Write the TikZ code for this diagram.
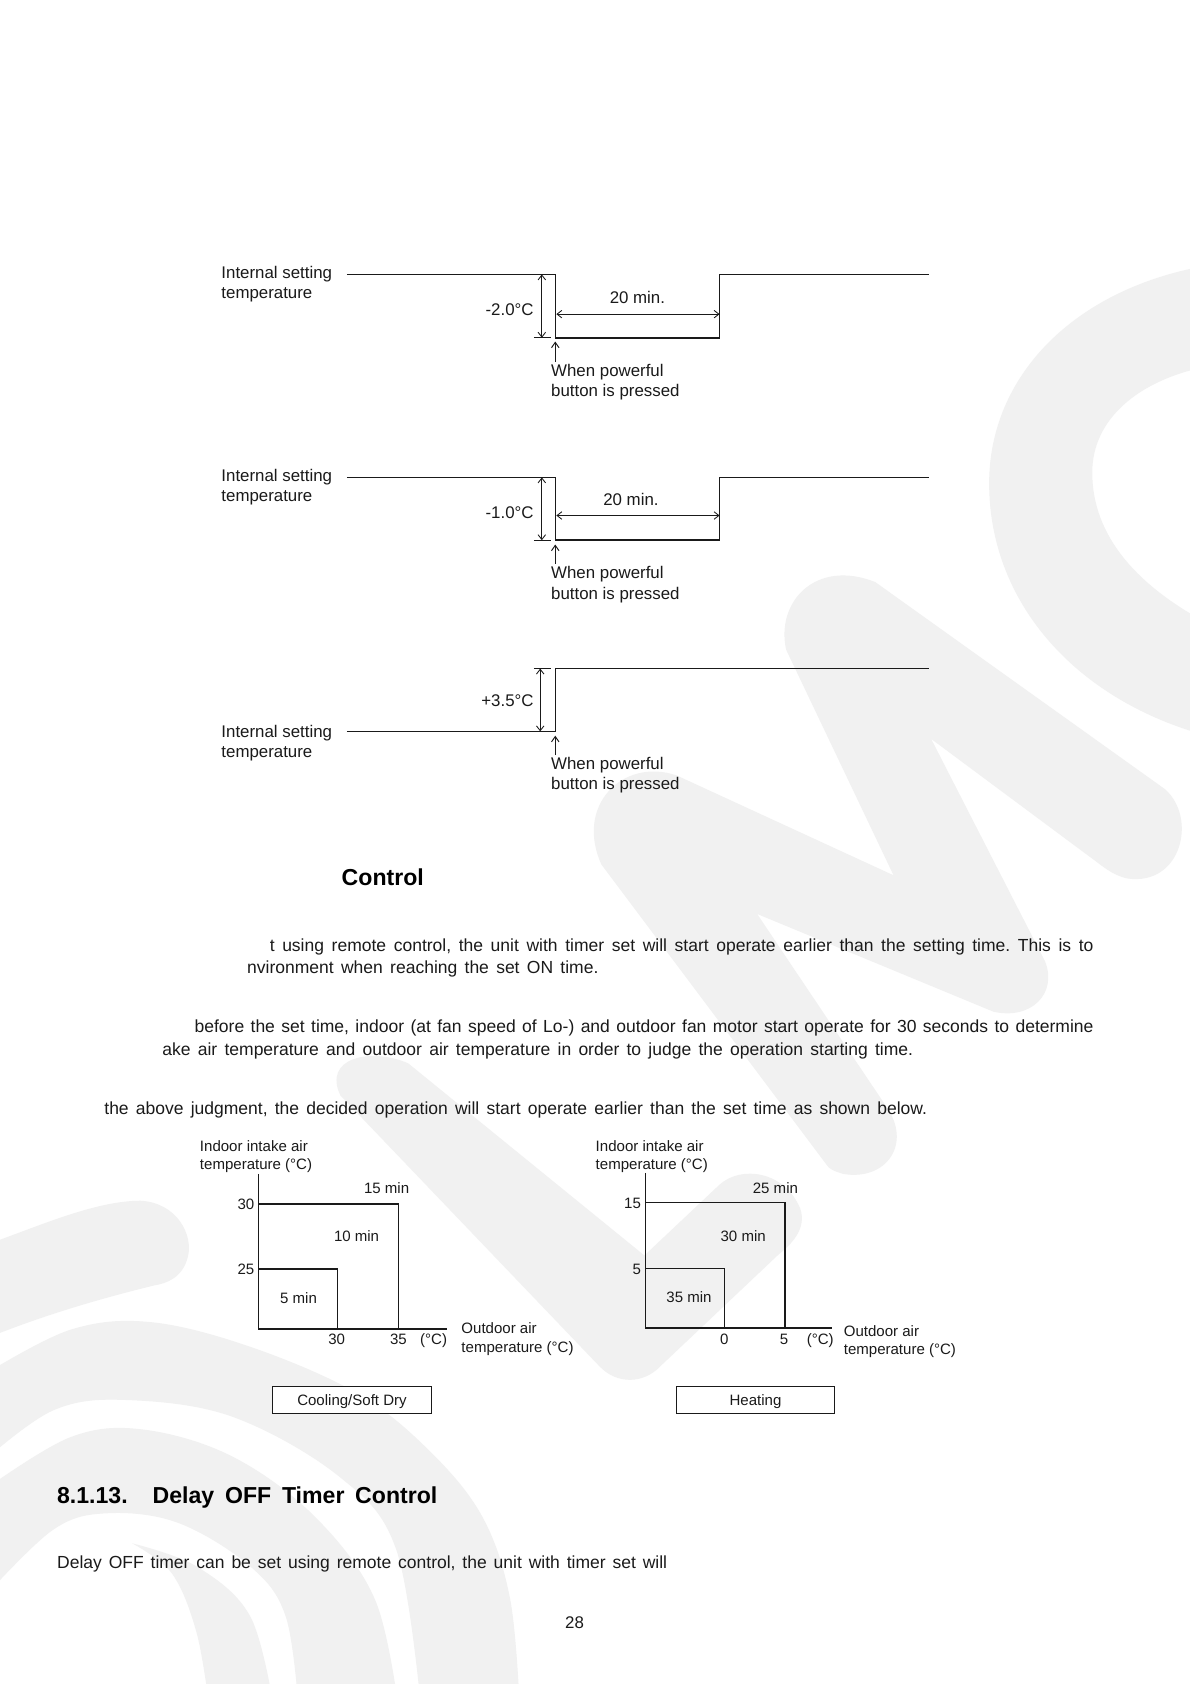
\documentclass[tikz,border=0pt]{standalone}
\usepackage{fontspec}
\setmainfont{Liberation Sans}
\usetikzlibrary{arrows.meta}
\definecolor{wmgrey}{HTML}{F1F1F1}
\definecolor{ink}{HTML}{1A1A1A}
\newcommand{\jl}[2]{\hbox to #1pt{\frenchspacing\spaceskip=.15em plus 1fil\relax #2}}
\newcommand{\fsa}{\fontsize{15.7}{19}\selectfont}
\newcommand{\fsc}{\fontsize{16.3}{19}\selectfont}
\newcommand{\fsb}{\fontsize{14}{17}\selectfont}
\tikzset{
  wm/.style={fill=wmgrey},
  wave/.style={draw=ink,line width=1.4pt,line join=miter},
  thin wave/.style={draw=ink,line width=.9pt},
  dim/.style={draw=ink,line width=.8pt,{Straight Barb[length=4.5pt,width=7pt]}-{Straight Barb[length=4.5pt,width=7pt]}},
  press/.style={draw=ink,line width=.9pt,-{Straight Barb[length=5pt,width=7pt]}},
  tick/.style={draw=ink,line width=.9pt},
  lab/.style={inner sep=0,text=ink,font=\fsa,anchor=base west},
  labr/.style={lab,anchor=base east},
  labc/.style={lab,anchor=base},
  body/.style={inner sep=0,text=ink,font=\fsc,anchor=base west},
  head/.style={inner sep=0,text=black,font=\fontsize{21.5}{24}\selectfont\bfseries,anchor=base west},
  clab/.style={inner sep=0,text=ink,font=\fsb,anchor=base west},
  clabr/.style={clab,anchor=base east},
  clabc/.style={clab,anchor=base},
  chart/.style={draw=ink,line width=1.1pt},
  cbox/.style={draw=ink,line width=1.1pt,fill=white,inner sep=0,text=ink,font=\fsb,minimum width=147.5pt,minimum height=25pt,text height=11pt,text depth=0pt},
}
\begin{document}
\begin{tikzpicture}[x=1pt,y=-1pt]
\useasboundingbox (0,0) rectangle (1108,1568);
\fill[white] (0,0) rectangle (1108,1568);
\begin{scope}
\clip (0,0) rectangle (1108,1568);
% watermark: ring
\fill[wm] (1120,248) .. controls (1000,270) and (921,350) .. (921,450)
  .. controls (921,560) and (1000,650) .. (1120,684)
  -- (1120,578) .. controls (1060,545) and (1017,500) .. (1017,440)
  .. controls (1017,390) and (1060,355) .. (1120,342) -- cycle;
% watermark: M
\fill[wm] (732,605) .. controls (722,560) and (760,520) .. (815,542)
  -- (1085,735) .. controls (1115,762) and (1100,825) .. (1050,818)
  .. controls (1035,815) and (1025,805) .. (1015,798)
  -- (867,688) -- (973,895) .. controls (985,925) and (960,950) .. (925,942)
  -- (705,851) -- (825,1030) .. controls (850,1065) and (825,1100) .. (785,1093)
  .. controls (775,1090) and (772,1088) .. (770,1085)
  -- (560,805) .. controls (535,750) and (580,705) .. (630,722)
  -- (832,815) -- cycle;
% watermark: V
\fill[wm] (317,1020) .. controls (300,985) and (345,975) .. (380,990)
  -- (600,1169) -- (670,1103) .. controls (690,1085) and (730,1090) .. (745,1125)
  .. controls (752,1145) and (735,1160) .. (725,1168)
  -- (615,1272) .. controls (600,1288) and (575,1290) .. (558,1272) -- cycle;
% watermark: arcs
\fill[wm] (-10,1158) .. controls (40,1140) and (90,1118) .. (131,1118)
  .. controls (165,1120) and (180,1150) .. (175,1170)
  .. controls (170,1190) and (155,1195) .. (143,1197) .. controls (90,1210) and (40,1225) .. (-10,1245) -- cycle;
\fill[wm] plot[smooth,tension=.6] coordinates {(-10,1277) (66,1238) (140,1231) (233,1254) (332,1297) (399,1350) (449,1412) (475,1489) (484,1590)}
  -- plot[smooth,tension=.6] coordinates {(392,1590) (369,1443) (316,1375) (216,1319) (116,1303.5) (50,1313) (-10,1356)} -- cycle;
\fill[wm] plot[smooth,tension=.6] coordinates {(-10,1384) (66,1338) (133,1331) (216,1356) (293,1412) (349,1489) (371,1590)}
  -- plot[smooth,tension=.6] coordinates {(278,1590) (266,1505) (233,1458.5) (166,1418) (100,1409) (50,1424) (-10,1482)} -- cycle;
\fill[wm] plot[smooth,tension=.6] coordinates {(123,1437) (183,1458.5) (233,1505) (255,1590)}
  -- plot[smooth,tension=.6] coordinates {(195,1590) (183,1520) (160,1465) (123,1437)} -- cycle;
\end{scope}

% --- diagram 1
\coordinate (a1) at (323,255.5); \coordinate (a2) at (517,255.5);
\coordinate (a3) at (517,314.5); \coordinate (a4) at (670,314.5);
\coordinate (a5) at (670,255.5); \coordinate (a6) at (865,255.5);
\draw[wave] (a1) -- (a2) -- (a3) -- (a4) -- (a5) -- (a6);
\coordinate (at1) at (497,314.5); \coordinate (at2) at (513,314.5);
\draw[tick] (at1) -- (at2);
\coordinate (ad1) at (504.5,255.5); \coordinate (ad2) at (504.5,314.5);
\draw[dim] (ad1) -- (ad2);
\coordinate (ah1) at (518,292.5); \coordinate (ah2) at (670,292.5);
\draw[dim] (ah1) -- (ah2);
\coordinate (ap1) at (517,337); \coordinate (ap2) at (517,318);
\draw[press] (ap1) -- (ap2);
\node[lab] (a_l1) at (206,259.5) {Internal setting};
\node[lab] (a_l2) at (206,277.5) {temperature};
\node[labr] (a_t) at (497,294) {-2.0°C};
\node[labc] (a_m) at (593.5,282.5) {20 min.};
\node[lab] (a_w1) at (513,350.5) {When powerful};
\node[lab] (a_w2) at (513,369.5) {button is pressed};

% --- diagram 2
\coordinate (b1) at (323,444.5); \coordinate (b2) at (517,444.5);
\coordinate (b3) at (517,503); \coordinate (b4) at (670,503);
\coordinate (b5) at (670,444.5); \coordinate (b6) at (865,444.5);
\draw[wave] (b1) -- (b2) -- (b3) -- (b4) -- (b5) -- (b6);
\coordinate (bt1) at (497,503); \coordinate (bt2) at (513,503);
\draw[tick] (bt1) -- (bt2);
\coordinate (bd1) at (504.5,444.5); \coordinate (bd2) at (504.5,503);
\draw[dim] (bd1) -- (bd2);
\coordinate (bh1) at (518,480); \coordinate (bh2) at (670,480);
\draw[dim] (bh1) -- (bh2);
\coordinate (bp1) at (517,525); \coordinate (bp2) at (517,507);
\draw[press] (bp1) -- (bp2);
\node[lab] (b_l1) at (206,448.5) {Internal setting};
\node[lab] (b_l2) at (206,466.5) {temperature};
\node[labr] (b_t) at (497,482.5) {-1.0°C};
\node[labc] (b_m) at (587.5,470.5) {20 min.};
\node[lab] (b_w1) at (513,538.5) {When powerful};
\node[lab] (b_w2) at (513,558.5) {button is pressed};

% --- diagram 3
\coordinate (c1) at (323,681); \coordinate (c2) at (517,681);
\coordinate (c3) at (517,622.5); \coordinate (c4) at (865,622.5);
\draw[wave] (c1) -- (c2) -- (c3);
\draw[thin wave] (c3) -- (c4);
\coordinate (ct1) at (497,622.5); \coordinate (ct2) at (513,622.5);
\draw[tick] (ct1) -- (ct2);
\coordinate (cd1) at (503,622.5); \coordinate (cd2) at (503,681);
\draw[dim] (cd1) -- (cd2);
\coordinate (cp1) at (517,703); \coordinate (cp2) at (517,685);
\draw[press] (cp1) -- (cp2);
\node[lab] (c_l1) at (206,686.5) {Internal setting};
\node[lab] (c_l2) at (206,705.5) {temperature};
\node[labr] (c_t) at (497,657.5) {+3.5°C};
\node[lab] (c_w1) at (513,716.5) {When powerful};
\node[lab] (c_w2) at (513,735.5) {button is pressed};

% --- text
\node[head] (h1) at (318,824.5) {Control};
\node[body] (t1) at (251,885.5) {\jl{767}{t using remote control, the unit with timer set will start operate earlier than the setting time. This is to}};
\node[body] (t2) at (230,906.5) {\jl{327}{nvironment when reaching the set ON time.}};
\node[body] (t3) at (181,961.5) {\jl{837}{before the set time, indoor (at fan speed of Lo-) and outdoor fan motor start operate for 30 seconds to determine}};
\node[body] (t4) at (151,982.5) {\jl{699}{ake air temperature and outdoor air temperature in order to judge the operation starting time.}};
\node[body] (t5) at (97,1037.5) {\jl{766}{the above judgment, the decided operation will start operate earlier than the set time as shown below.}};
\node[head] (h2n) at (53,1399.5) {8.1.13.};
\node[head] (h2) at (142,1399.5) {\jl{265}{Delay OFF Timer Control}};
\node[body] (t6) at (53,1460.5) {\jl{568}{Delay OFF timer can be set using remote control, the unit with timer set will}};
\node[labc] (pg) at (535,1516) {28};

% --- left chart
\coordinate (d0) at (241,1237.5); \coordinate (dy) at (241,1093); \coordinate (dx) at (416,1237.5);
\draw[chart] (dy) -- (d0) -- (dx);
\coordinate (d1) at (241,1121); \coordinate (d2) at (371,1121); \coordinate (d3) at (371,1237.5);
\draw[chart] (d1) -- (d2) -- (d3);
\coordinate (d4) at (241,1181.5); \coordinate (d5) at (314.5,1181.5); \coordinate (d6) at (314.5,1237.5);
\draw[chart] (d4) -- (d5) -- (d6);
\node[clab] (d_y1) at (186,1072) {Indoor intake air};
\node[clab] (d_y2) at (186,1089) {temperature (°C)};
\node[clabc] (d_r1) at (360,1111) {15 min};
\node[clabc] (d_r2) at (332,1156) {10 min};
\node[clabc] (d_r3) at (278,1214) {5 min};
\node[clabr] (d_v1) at (237,1126) {30};
\node[clabr] (d_v2) at (237,1187) {25};
\node[clabc] (d_h1) at (313.5,1252) {30};
\node[clabc] (d_h2) at (371,1252) {35};
\node[clabr] (d_h3) at (416.5,1252) {(°C)};
\node[clab] (d_x1) at (429.5,1242) {Outdoor air};
\node[clab] (d_x2) at (429.5,1259) {temperature (°C)};
\node[cbox] (d_box) at (327.75,1303.5) {Cooling/Soft Dry};

% --- right chart
\coordinate (e0) at (601,1236.5); \coordinate (ey) at (601,1092); \coordinate (ex) at (775,1236.5);
\draw[chart] (ey) -- (e0) -- (ex);
\coordinate (e1) at (601,1120); \coordinate (e2) at (731,1120); \coordinate (e3) at (731,1236.5);
\draw[chart] (e1) -- (e2) -- (e3);
\coordinate (e4) at (601,1181); \coordinate (e5) at (674.5,1181); \coordinate (e6) at (674.5,1236.5);
\draw[chart] (e4) -- (e5) -- (e6);
\node[clab] (e_y1) at (554.5,1072) {Indoor intake air};
\node[clab] (e_y2) at (554.5,1089) {temperature (°C)};
\node[clabc] (e_r1) at (722,1111) {25 min};
\node[clabc] (e_r2) at (692,1156) {30 min};
\node[clabc] (e_r3) at (641.5,1213) {35 min};
\node[clabr] (e_v1) at (597,1125) {15};
\node[clabr] (e_v2) at (597,1187) {5};
\node[clabc] (e_h1) at (674.5,1252) {0};
\node[clabc] (e_h2) at (730,1252) {5};
\node[clabr] (e_h3) at (776.5,1252) {(°C)};
\node[clab] (e_x1) at (785.5,1244.5) {Outdoor air};
\node[clab] (e_x2) at (785.5,1261.5) {temperature (°C)};
\node[cbox] (e_box) at (703.5,1303.5) {Heating};
\end{tikzpicture}
\end{document}
